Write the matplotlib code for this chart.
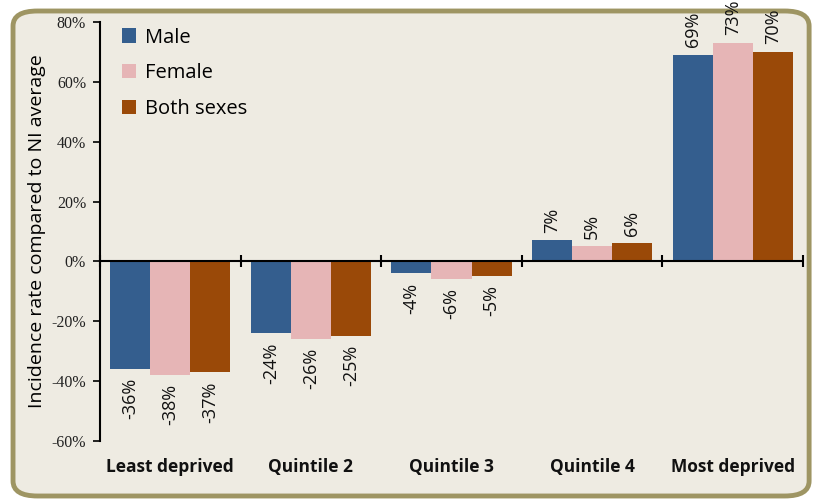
import matplotlib.pyplot as plt
import numpy as np
from matplotlib.patches import FancyBboxPatch

# 지역 박탈 분위별 발생률 (NI 평균 대비)
categories = ['Least deprived', 'Quintile 2', 'Quintile 3', 'Quintile 4', 'Most deprived']
series_names = ['Male', 'Female', 'Both sexes']
male = [-36, -24, -4, 7, 69]
female = [-38, -26, -6, 5, 73]
both = [-37, -25, -5, 6, 70]
colors = ['#345E8E', '#E6B5B6', '#9A4908']
y_ticks = [-60, -40, -20, 0, 20, 40, 60, 80]

fig = plt.figure(figsize=(8.14, 5.0), dpi=100)
fig.patch.set_facecolor('white')

# 둥근 테두리 배경
frame = FancyBboxPatch((0.016, 0.008), 0.978, 0.97, boxstyle='round,pad=0,rounding_size=0.03',
                       transform=fig.transFigure, facecolor='#EEEBE2', edgecolor='#9E9563',
                       linewidth=3.5, zorder=-10)
fig.patches.append(frame)

ax = fig.add_axes([100 / 814, 1 - 441 / 500, 703 / 814, 419 / 500])
ax.set_facecolor('none')
ax.set_zorder(5)

x = np.arange(len(categories))
width = 0.285
for i, (name, vals) in enumerate(zip(series_names, [male, female, both])):
    pos = x + (i - 1) * width
    ax.bar(pos, vals, width, color=colors[i], label=name, zorder=2)
    for px, v in zip(pos, vals):
        if v >= 0:
            ax.text(px, v + 2.5, f'{v}%', rotation=90, ha='center', va='bottom',
                    fontsize=13, family='Open Sans', color='#111111')
        else:
            ax.text(px, v - 3, f'{v}%', rotation=90, ha='center', va='top',
                    fontsize=13, family='Open Sans', color='#111111')

ax.set_xlim(-0.5, len(categories) - 0.5)
ax.set_ylim(-60, 80)
ax.set_yticks(y_ticks)
ax.set_yticklabels([f'{t}%' for t in y_ticks], family='Liberation Serif', fontsize=11.5, color='#222222')
ax.tick_params(axis='y', direction='out', length=5, width=1.2, pad=5)

for s in ['top', 'right', 'bottom']:
    ax.spines[s].set_visible(False)
ax.spines['left'].set_linewidth(1.5)

# 0% 기준선과 구간 눈금
ax.axhline(0, color='black', linewidth=1.5, zorder=3)
ax.set_xticks([])
bounds = np.arange(len(categories) + 1) - 0.5
ax.plot(bounds, np.zeros_like(bounds), linestyle='none', marker='|', markersize=9,
        markeredgewidth=1.5, color='black', zorder=3, clip_on=False)

for xi, c in zip(x, categories):
    ax.text(xi, -0.062, c, transform=ax.get_xaxis_transform(), ha='center', va='center',
            fontsize=12.5, family='Open Sans', fontweight='bold', color='#111111')

ax.set_ylabel('Incidence rate compared to NI average', family='Open Sans', fontsize=14,
              labelpad=4)

ax.legend(loc='upper left', bbox_to_anchor=(0.005, 1.03), frameon=False,
          prop={'family': 'Open Sans', 'size': 14.5}, handlelength=0.7, handleheight=0.7,
          handletextpad=0.45, labelspacing=0.78)

fig.savefig('out.png', dpi=100)
